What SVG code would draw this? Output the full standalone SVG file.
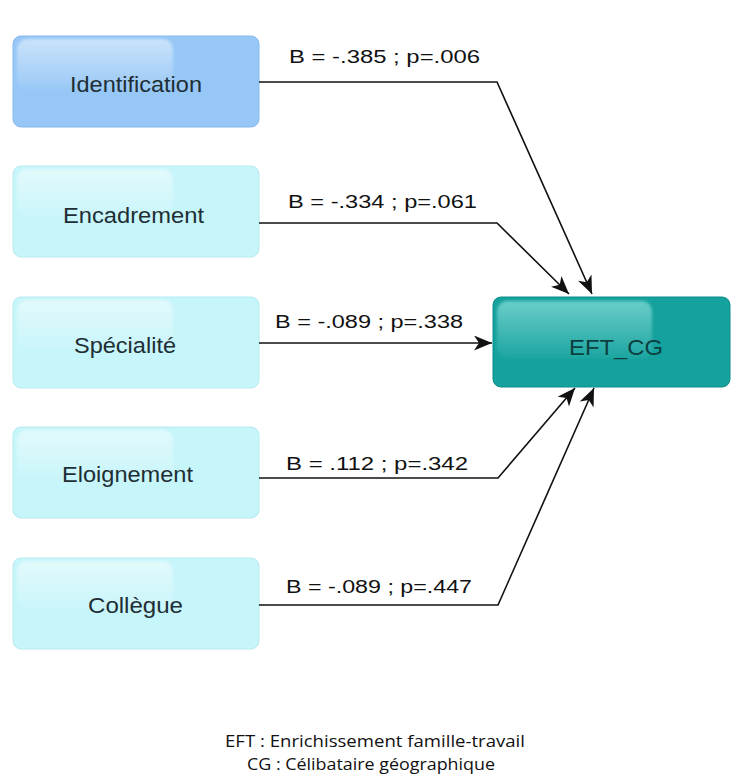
<svg xmlns="http://www.w3.org/2000/svg" width="731" height="780" viewBox="0 0 731 780">
  <defs>
    <style>
      .box-blue { fill: #96c7f6; stroke: #86b9ec; stroke-width: 1; }
      .box-cyan { fill: #c6f5fa; stroke: #b6eaf0; stroke-width: 1; }
      .box-teal { fill: #15a19d; stroke: #0f8e8a; stroke-width: 1; }
      .gloss { fill: url(#glossGrad); filter: url(#soft); }
      .gloss-teal { fill: url(#glossTeal); filter: url(#soft); }
      .node-text { font-family: "Liberation Sans", Arial, sans-serif; font-size: 22px; fill: #1e2e34; }
      .target-text { font-family: "Liberation Sans", Arial, sans-serif; font-size: 22px; fill: #0b3f40; }
      .edge-label { font-family: "Liberation Sans", Arial, sans-serif; font-size: 18px; fill: #111111; }
      .edge { fill: none; stroke: #111111; stroke-width: 1.6; marker-end: url(#arrow); }
      .note { font-family: "Open Sans", "Noto Sans", sans-serif; font-size: 17px; fill: #111111; }
    </style>
    <filter id="soft" x="-10%" y="-10%" width="120%" height="120%">
      <feGaussianBlur stdDeviation="1.5"/>
    </filter>
    <linearGradient id="glossGrad" x1="0" y1="0" x2="0" y2="1">
      <stop offset="0" stop-color="#ffffff" stop-opacity="0.5"/>
      <stop offset="1" stop-color="#ffffff" stop-opacity="0.05"/>
    </linearGradient>
    <linearGradient id="glossTeal" x1="0" y1="0" x2="0" y2="1">
      <stop offset="0" stop-color="#8fe0dc" stop-opacity="0.7"/>
      <stop offset="1" stop-color="#8fe0dc" stop-opacity="0.05"/>
    </linearGradient>
    <marker id="arrow" markerUnits="userSpaceOnUse" markerWidth="19" markerHeight="15" refX="18" refY="7.5" orient="auto">
      <path d="M0,0 L18,7.5 L0,15 L5,7.5 z" fill="#111111"/>
    </marker>
  </defs>

  <rect width="731" height="780" fill="#ffffff"/>

  <!-- source nodes -->
  <g id="identification">
    <rect class="box-blue" x="13" y="36" width="246" height="91" rx="8"/>
    <rect class="gloss" x="17" y="39" width="156" height="50" rx="10"/>
    <text class="node-text" x="70" y="92" textLength="132" lengthAdjust="spacingAndGlyphs">Identification</text>
  </g>

  <g id="encadrement">
    <rect class="box-cyan" x="13" y="166" width="246" height="91" rx="8"/>
    <rect class="gloss" x="17" y="169" width="156" height="50" rx="10"/>
    <text class="node-text" x="63" y="223" textLength="141" lengthAdjust="spacingAndGlyphs">Encadrement</text>
  </g>

  <g id="specialite">
    <rect class="box-cyan" x="13" y="297" width="246" height="91" rx="8"/>
    <rect class="gloss" x="17" y="300" width="156" height="50" rx="10"/>
    <text class="node-text" x="74" y="353" textLength="102" lengthAdjust="spacingAndGlyphs">Spécialité</text>
  </g>

  <g id="eloignement">
    <rect class="box-cyan" x="13" y="427" width="246" height="91" rx="8"/>
    <rect class="gloss" x="17" y="430" width="156" height="50" rx="10"/>
    <text class="node-text" x="62" y="482" textLength="131" lengthAdjust="spacingAndGlyphs">Eloignement</text>
  </g>

  <g id="collegue">
    <rect class="box-cyan" x="13" y="558" width="246" height="91" rx="8"/>
    <rect class="gloss" x="17" y="561" width="156" height="50" rx="10"/>
    <text class="node-text" x="88" y="613" textLength="95" lengthAdjust="spacingAndGlyphs">Collègue</text>
  </g>

  <!-- outcome node -->
  <g id="eft-cg">
    <rect class="box-teal" x="493" y="297" width="237" height="90" rx="8"/>
    <rect class="gloss-teal" x="497" y="301" width="155" height="58" rx="10"/>
    <text class="target-text" x="569" y="355" textLength="94" lengthAdjust="spacingAndGlyphs">EFT_CG</text>
  </g>

  <!-- paths with coefficients -->
  <g id="connectors">
    <path class="edge" d="M259,82 H497 L592,294"/>
    <path class="edge" d="M259,223 H497 L569,294"/>
    <path class="edge" d="M259,343 H492"/>
    <path class="edge" d="M259,478 H498 L575,388"/>
    <path class="edge" d="M259,605 H498 L594,388"/>

    <text class="edge-label" x="289" y="63" textLength="191" lengthAdjust="spacingAndGlyphs">B = -.385 ; p=.006</text>
    <text class="edge-label" x="288" y="208" textLength="189" lengthAdjust="spacingAndGlyphs">B = -.334 ; p=.061</text>
    <text class="edge-label" x="275" y="328" textLength="188" lengthAdjust="spacingAndGlyphs">B = -.089 ; p=.338</text>
    <text class="edge-label" x="286" y="470" textLength="182" lengthAdjust="spacingAndGlyphs">B = .112 ; p=.342</text>
    <text class="edge-label" x="286" y="593" textLength="186" lengthAdjust="spacingAndGlyphs">B = -.089 ; p=.447</text>
  </g>

  <!-- abbreviations -->
  <text class="note" x="225" y="747" textLength="300" lengthAdjust="spacingAndGlyphs">EFT : Enrichissement famille-travail</text>
  <text class="note" x="247" y="770" textLength="248" lengthAdjust="spacingAndGlyphs">CG : Célibataire géographique</text>
</svg>
